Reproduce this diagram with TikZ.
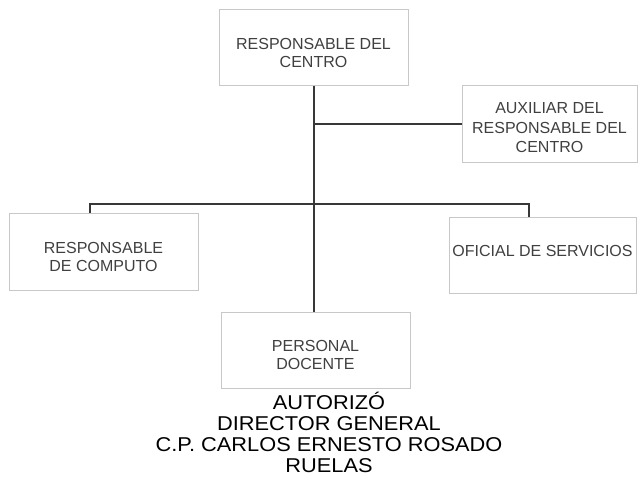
\documentclass[tikz,border=0pt]{standalone}
\usepackage{fontspec}
\setmainfont{Liberation Sans}
\definecolor{boxgray}{HTML}{C8C8C8}
\definecolor{txtgray}{HTML}{404040}
\definecolor{linegray}{HTML}{383838}
\begin{document}
\begin{tikzpicture}[x=1pt,y=-1pt,
  orgbox/.style={draw=boxgray, line width=1pt, fill=white, inner sep=0pt},
  boxlabel/.style={text=txtgray, align=center, inner sep=0pt, font=\fontsize{16}{18}\selectfont},
  conn/.style={draw=linegray, line width=2pt}]
\useasboundingbox[fill=white] (0,0) rectangle (639,476);
\node[orgbox, minimum width=189pt, minimum height=76pt] (top) at (313.5,48) {};
\node[orgbox, minimum width=175pt, minimum height=76pt] (aux) at (549.5,124) {};
\node[orgbox, minimum width=189pt, minimum height=77pt] (comp) at (103.5,252) {};
\node[orgbox, minimum width=187pt, minimum height=76pt] (ofi) at (542.5,255) {};
\node[orgbox, minimum width=189pt, minimum height=76pt] (pers) at (315.5,350) {};
\node[boxlabel, yshift=-5pt] (toptxt) at (top.center) {RESPONSABLE DEL\\CENTRO};
\node[boxlabel, yshift=-4pt, font=\fontsize{16}{19.5}\selectfont] (auxtxt) at (aux.center) {AUXILIAR DEL\\RESPONSABLE DEL\\CENTRO};
\node[boxlabel, yshift=-5pt] (comptxt) at (comp.center) {RESPONSABLE\\DE COMPUTO};
\node[boxlabel, yshift=4pt] (ofitxt) at (ofi.center) {OFICIAL DE SERVICIOS};
\node[boxlabel, yshift=-5pt] (perstxt) at (pers.center) {PERSONAL\\DOCENTE};
\coordinate (trunk) at (314,86);
\coordinate (bl) at (90,204);
\coordinate (br) at (529,204);
\draw[conn] (trunk) -- (trunk |- pers.north);
\draw[conn] (trunk |- aux.west) -- (aux.west);
\draw[conn] (bl |- comp.north) -- (bl) -- (br) -- (br |- ofi.north);
\node[align=center, text=black, inner sep=0pt, xscale=1.09, transform shape,
  font=\fontsize{20}{21}\selectfont] (sig) at (329,432)
  {AUTORIZÓ\\DIRECTOR GENERAL\\C.P. CARLOS ERNESTO ROSADO\\RUELAS};
\end{tikzpicture}
\end{document}
